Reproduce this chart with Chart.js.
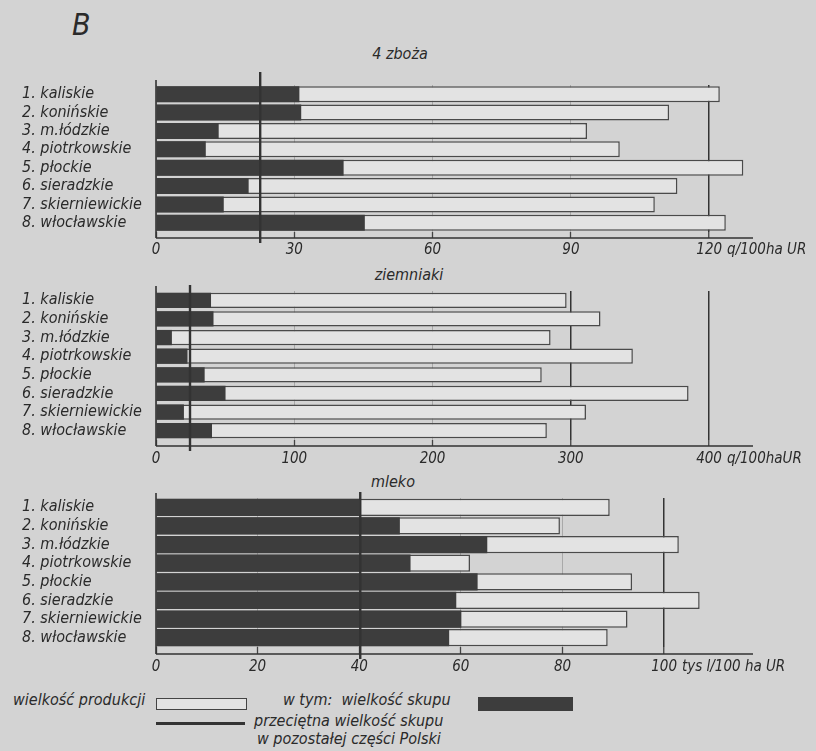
<!DOCTYPE html>
<html lang="pl">
<head>
<meta charset="utf-8">
<title>B</title>
<script src="https://cdn.jsdelivr.net/npm/chart.js@4.4.0/dist/chart.umd.min.js"></script>
<style>
    body { margin: 0; width: 816px; height: 751px; overflow: hidden; position: relative; background: #d3d3d3;
           font-family: 'DejaVu Sans Condensed', 'DejaVu Sans', sans-serif; font-style: italic; color: #2a2a2a; }
    .wykres { position: absolute; left: 0; width: 816px; }
    .tekst { position: absolute; white-space: pre; line-height: 1; }
    .tytul { position: absolute; width: 200px; text-align: center; font-size: 16px; line-height: 1; }
    .pole { position: absolute; box-sizing: border-box; }
</style>
</head>
<body>

<div class="tekst" style="left:72px;top:10px;font-size:30px;font-weight:300;">B</div>

<div class="tytul" style="left:300px;top:46px;">4 zboża</div>
<div class="tytul" style="left:309px;top:267px;">ziemniaki</div>
<div class="tytul" style="left:293px;top:474px;">mleko</div>

<div class="wykres" style="top:70px;height:190px;"><canvas id="wykresZboza"></canvas></div>
<div class="wykres" style="top:275px;height:193px;"><canvas id="wykresZiemniaki"></canvas></div>
<div class="wykres" style="top:480px;height:200px;"><canvas id="wykresMleko"></canvas></div>

<!-- legenda -->
<div class="tekst" style="left:13px;top:692px;font-size:16px;">wielkość produkcji</div>
<div class="pole" style="left:156px;top:698px;width:91px;height:12px;border:1.5px solid #444;background:#e3e3e3;"></div>
<div class="tekst" style="left:283px;top:692px;font-size:16px;">w tym:  wielkość skupu</div>
<div class="pole" style="left:478px;top:697px;width:95px;height:14px;background:#3d3d3d;"></div>
<div class="pole" style="left:156px;top:722px;width:89px;height:3px;background:#333;"></div>
<div class="tekst" style="left:254px;top:713px;font-size:16px;">przeciętna wielkość skupu</div>
<div class="tekst" style="left:257px;top:731px;font-size:16px;">w pozostałej części Polski</div>

<script>
// Województwa
const wojewodztwa = ['1. kaliskie', '2. konińskie', '3. m.łódzkie', '4. piotrkowskie', '5. płockie', '6. sieradzkie', '7. skierniewickie', '8. włocławskie'];

// 4 zboża (q/100 ha UR)
const zbozaProdukcja = [122.3, 111.3, 93.5, 100.6, 127.4, 113.1, 108.2, 123.6];
const zbozaSkup = [31.1, 31.5, 13.6, 10.8, 40.7, 20.1, 14.7, 45.3];
const zbozaSrednia = 22.6;
const zbozaTicks = [0, 30, 60, 90, 120];

// ziemniaki (q/100 ha UR)
const ziemniakiProdukcja = [297, 321.5, 285.4, 344.9, 279, 385.2, 311, 282.7];
const ziemniakiSkup = [39.8, 41.6, 11.5, 22.8, 35.2, 50.3, 20.2, 40.5];
const ziemniakiSrednia = 24.6;
const ziemniakiTicks = [0, 100, 200, 300, 400];

// mleko (tys l/100 ha UR)
const mlekoProdukcja = [89.3, 79.5, 102.9, 61.8, 93.7, 107, 92.8, 88.9];
const mlekoSkup = [40.0, 48.0, 65.2, 50.1, 63.3, 59.1, 60.1, 57.7];
const mlekoSrednia = 40.2;
const mlekoTicks = [0, 20, 40, 60, 80, 100];

const FONT = "'DejaVu Sans Condensed', 'DejaVu Sans', sans-serif";
const CIEMNY = '#3d3d3d';
const JASNY = '#e3e3e3';
const KRESKA = '#333';

// osie, linia średniej i jednostka rysowane po słupkach
const ramka = {
    id: 'ramka',
    afterDatasetsDraw(chart, args, o) {
        const { ctx, chartArea: a, scales: { x } } = chart;
        const osY = a.bottom + o.odstep;
        ctx.save();
        ctx.strokeStyle = KRESKA;
        ctx.lineWidth = 1.6;
        ctx.beginPath();
        ctx.moveTo(a.left, osY);
        ctx.lineTo(a.right, osY);
        ctx.moveTo(a.left, a.top - 5);
        ctx.lineTo(a.left, osY);
        ctx.stroke();

        const xs = x.getPixelForValue(o.srednia);
        ctx.lineWidth = 2.4;
        ctx.beginPath();
        ctx.moveTo(xs, a.top - o.nad);
        ctx.lineTo(xs, osY + 5);
        ctx.stroke();

        // jednostka za ostatnią liczbą
        const ost = o.ticks[o.ticks.length - 1];
        ctx.font = 'italic 15px ' + FONT;
        const px = x.getPixelForValue(ost) + ctx.measureText(String(ost)).width / 2 + 5;
        ctx.fillStyle = '#2a2a2a';
        ctx.textBaseline = 'middle';
        ctx.fillText(o.jednostka, px, osY + o.pad + 9);
        ctx.restore();
    }
};

function rysuj(id, produkcja, skup, srednia, ticks, max, jednostka, ust) {
    const ctx = document.getElementById(id).getContext('2d');
    return new Chart(ctx, {
        type: 'bar',
        data: {
            labels: wojewodztwa,
            datasets: [
                { label: 'wielkość skupu', data: skup, backgroundColor: CIEMNY, borderWidth: 0, grouped: false, barPercentage: ust.bar, categoryPercentage: 1 },
                { label: 'wielkość produkcji', data: produkcja, backgroundColor: JASNY, borderColor: '#4a4a4a', borderWidth: 1.5, grouped: false, barPercentage: ust.bar, categoryPercentage: 1 }
            ]
        },
        options: {
            indexAxis: 'y',
            responsive: true,
            maintainAspectRatio: false,
            animation: false,
            layout: { padding: { left: 22, right: 63, top: ust.gora, bottom: 0 } },
            plugins: {
                legend: { display: false },
                tooltip: { enabled: false },
                ramka: { srednia: srednia, odstep: ust.odstep, nad: ust.nad, pad: ust.pad, ticks: ticks, jednostka: jednostka }
            },
            scales: {
                x: {
                    min: 0,
                    max: max,
                    afterBuildTicks: s => { s.ticks = ticks.map(v => ({ value: v })); },
                    afterFit: s => { s.height = ust.osH; },
                    grid: {
                        color: c => ust.mocne.includes(c.tick && c.tick.value) ? KRESKA : 'rgba(60,60,60,0.28)',
                        lineWidth: c => ust.mocne.includes(c.tick && c.tick.value) ? 1.5 : 1,
                        tickLength: ust.odstep,
                        tickColor: '#444',
                        tickWidth: 1.3
                    },
                    border: { display: false },
                    ticks: { padding: ust.pad, color: '#2a2a2a', font: { family: FONT, size: 15, style: 'italic' }, maxRotation: 0 }
                },
                y: {
                    afterFit: s => { s.width = 134; },
                    grid: { display: false },
                    border: { display: false },
                    ticks: { autoSkip: false, crossAlign: 'far', color: '#2a2a2a', font: { family: FONT, size: 16, style: 'italic' } }
                }
            }
        },
        plugins: [ramka]
    });
}

document.addEventListener('DOMContentLoaded', () => {
    rysuj('wykresZboza', zbozaProdukcja, zbozaSkup, zbozaSrednia, zbozaTicks, 129.5, 'q/100ha UR',
        { gora: 15, osH: 28, odstep: 6, pad: 3, nad: 13, bar: 0.87, mocne: [120] });
    rysuj('wykresZiemniaki', ziemniakiProdukcja, ziemniakiSkup, ziemniakiSrednia, ziemniakiTicks, 431.8, 'q/100haUR',
        { gora: 16, osH: 28, odstep: 6, pad: 4, nad: 6, bar: 0.82, mocne: [300, 400] });
    rysuj('wykresMleko', mlekoProdukcja, mlekoSkup, mlekoSrednia, mlekoTicks, 117.5, 'tys l/100 ha UR',
        { gora: 18, osH: 33, odstep: 7, pad: 4, nad: 6, bar: 0.92, mocne: [100] });
});
</script>
</body>
</html>
